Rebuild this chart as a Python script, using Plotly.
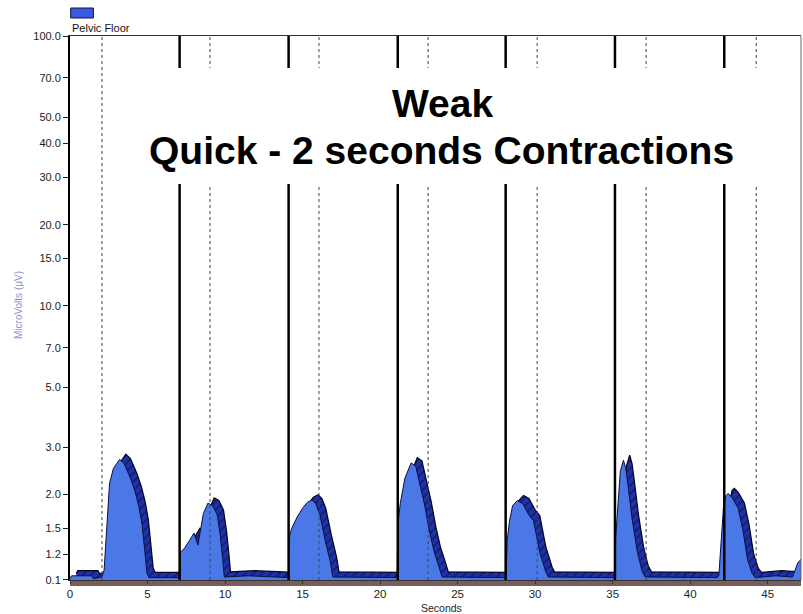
import math
import plotly.graph_objects as go

# ---------------- data ----------------
seconds = [0.0, 0.1, 1.4, 1.5, 1.9,
           2.05, 2.2, 2.3, 2.4, 2.55, 2.8, 3.2, 3.5, 3.9, 4.2, 4.45, 4.65, 4.84, 4.97, 5.1, 6.95,
           7.1, 7.12, 7.4, 7.7, 8.0, 8.25, 8.4, 8.6, 8.9, 9.2, 9.5, 9.7, 9.85, 9.95, 11.5, 13.95,
           14.1, 14.12, 14.3, 14.65, 15.0, 15.3, 15.6, 15.85, 16.1, 16.45, 16.8, 16.95, 20.95,
           21.1, 21.15, 21.3, 21.6, 22.0, 22.3, 22.6, 22.9, 23.2, 23.5, 23.8, 24.0, 27.95,
           28.12, 28.2, 28.35, 28.55, 28.85, 29.2, 29.6, 29.9, 30.3, 30.7, 30.85, 34.95,
           35.15, 35.2, 35.35, 35.5, 35.7, 35.85, 36.0, 36.26, 36.6, 36.9, 37.1, 41.75,
           41.85, 41.95, 42.05, 42.15, 42.3, 42.45, 42.7, 43.1, 43.4, 43.7, 44.0, 44.2,
           45.5, 46.6, 46.95, 47.15]
microvolts = [0.975, 1.0, 1.0, 0.975, 0.985,
              0.99, 1.05, 1.3, 1.7, 2.2, 2.5, 2.7, 2.6, 2.3, 2.05, 1.8, 1.55, 1.18, 1.02, 0.985, 0.99,
              0.985, 1.22, 1.27, 1.35, 1.44, 1.3, 1.45, 1.7, 1.86, 1.82, 1.68, 1.4, 1.15, 0.99, 1.0, 0.985,
              0.985, 1.38, 1.5, 1.65, 1.78, 1.87, 1.91, 1.85, 1.7, 1.36, 1.12, 0.99, 0.985,
              0.985, 1.55, 1.85, 2.3, 2.62, 2.55, 2.15, 1.8, 1.45, 1.22, 1.08, 0.99, 0.985,
              0.985, 1.35, 1.6, 1.82, 1.9, 1.85, 1.68, 1.6, 1.22, 1.03, 0.99, 0.985,
              0.985, 1.4, 1.8, 2.45, 2.68, 2.5, 2.15, 1.62, 1.22, 1.04, 0.99, 0.985,
              1.0, 1.2, 1.5, 1.8, 1.98, 2.02, 1.95, 1.78, 1.48, 1.15, 1.02, 0.985,
              1.0, 0.99, 1.12, 1.15]

contraction_start = [7.07, 14.1, 21.14, 28.1, 35.15, 42.2]      # solid markers
contraction_cue = [2.06, 9.03, 16.06, 23.1, 30.13, 37.16, 44.26]  # dotted markers

y_tick_vals = [0.967, 1.2, 1.5, 2, 3, 5, 7, 10, 15, 20, 30, 40, 50, 70, 100]
y_tick_text = ["0.1", "1.2", "1.5", "2.0", "3.0", "5.0", "7.0", "10.0", "15.0",
               "20.0", "30.0", "40.0", "50.0", "70.0", "100.0"]
x_tick_vals = [0, 5, 10, 15, 20, 25, 30, 35, 40, 45]

series_name = "Pelvic Floor"
title_lines = ["Weak", "Quick - 2 seconds Contractions"]

# ---------------- style ----------------
FRONT = "#4a78e6"
RIDGE = "#1f30a8"
depth_dx = 0.4      # 3-D extrusion offset (seconds)
depth_fy = 1.045    # 3-D extrusion offset (log factor)

x_max = 47.15
y_min = 0.965
W, H = 803, 614
ml, mr, mt, mb = 70, 2, 36, 34
plot_h = H - mt - mb
plot_w = W - ml - mr

fig = go.Figure()

# back (extruded ridge)
fig.add_trace(go.Scatter(
    x=[t + depth_dx for t in seconds],
    y=[v * depth_fy for v in microvolts],
    mode="lines", fill="tozeroy",
    line=dict(color="#05051a", width=1.2),
    fillcolor=RIDGE,
    fillpattern=dict(shape="/", fgcolor="#000000", bgcolor=RIDGE, size=6, solidity=0.2),
    showlegend=False, hoverinfo="skip"))
# front face
fig.add_trace(go.Scatter(
    x=seconds, y=microvolts, mode="lines", fill="tozeroy",
    line=dict(color="#0a0f40", width=1),
    fillcolor=FRONT, name=series_name, showlegend=False))

shapes = []
for t in contraction_start:
    shapes.append(dict(type="line", xref="x", yref="paper", x0=t, x1=t, y0=0, y1=1,
                       line=dict(color="#000000", width=2.5), layer="above"))
for t in contraction_cue:
    shapes.append(dict(type="line", xref="x", yref="paper", x0=t, x1=t, y0=0, y1=1,
                       line=dict(color="#444444", width=1, dash="dot"), layer="above"))
# white box behind the heading
shapes.append(dict(type="rect", xref="x", yref="paper", x0=4.0, x1=46.9,
                   y0=(H - mb - 184) / plot_h, y1=(H - mb - 68) / plot_h,
                   fillcolor="white", line=dict(width=0), layer="above"))
# right border
shapes.append(dict(type="line", xref="paper", yref="paper", x0=1, x1=1, y0=0, y1=1,
                   line=dict(color="#666666", width=1), layer="above"))
# brown floor strip
shapes.append(dict(type="rect", xref="paper", yref="paper", x0=0, x1=1,
                   y0=-6 / plot_h, y1=-1 / plot_h,
                   fillcolor="#7a5c58", line=dict(width=0), layer="below"))
# legend swatch
shapes.append(dict(type="rect", xref="paper", yref="paper",
                   x0=0.001, x1=0.032, y0=(H - mb - 18) / plot_h, y1=(H - mb - 8) / plot_h,
                   fillcolor="#3a5ae0", line=dict(color="#101040", width=1)))

annotations = [
    dict(text=title_lines[0], xref="paper", yref="paper",
         x=(442.5 - ml) / plot_w, y=(H - mb - 103) / plot_h,
         xanchor="center", yanchor="middle", showarrow=False,
         font=dict(family="Liberation Sans, Arial", size=39, color="#000000", weight="bold")),
    dict(text=title_lines[1], xref="paper", yref="paper",
         x=(441.5 - ml) / plot_w, y=(H - mb - 150) / plot_h,
         xanchor="center", yanchor="middle", showarrow=False,
         font=dict(family="Liberation Sans, Arial", size=39, color="#000000", weight="bold")),
    dict(text=series_name, xref="paper", yref="paper",
         x=0.0, y=(H - mb - 27.5) / plot_h, xanchor="left", yanchor="middle",
         showarrow=False, font=dict(family="Liberation Sans, Arial", size=11, color="#111111")),
    dict(text="MicroVolts (µV)", xref="paper", yref="paper",
         x=(18 - ml) / plot_w, y=(H - mb - 305) / plot_h, textangle=-90,
         xanchor="center", yanchor="middle", showarrow=False,
         font=dict(family="Liberation Sans, Arial", size=10, color="#8c94d4")),
    dict(text="Seconds", xref="paper", yref="paper",
         x=(441 - ml) / plot_w, y=(H - mb - 607.5) / plot_h,
         xanchor="center", yanchor="middle", showarrow=False,
         font=dict(family="Liberation Sans, Arial", size=10.5, color="#222222")),
]

fig.update_layout(
    width=W, height=H,
    margin=dict(l=ml, r=mr, t=mt, b=mb),
    paper_bgcolor="white", plot_bgcolor="white",
    showlegend=False,
    shapes=shapes, annotations=annotations,
    xaxis=dict(range=[0, x_max], tickvals=x_tick_vals, showgrid=False, zeroline=False,
               showline=True, linecolor="#333333", linewidth=1, mirror=True,
               ticks="outside", ticklen=3, tickcolor="#333333",
               tickfont=dict(family="Liberation Sans, Arial", size=11.5, color="#222222")),
    yaxis=dict(type="log", range=[math.log10(y_min), 2], tickvals=y_tick_vals,
               ticktext=y_tick_text, showgrid=False, zeroline=False,
               showline=True, linecolor="#000000", linewidth=2,
               ticks="outside", ticklen=5, tickcolor="#222222",
               tickfont=dict(family="Liberation Sans, Arial", size=11, color="#222222")),
)

fig.write_html("out.html")
